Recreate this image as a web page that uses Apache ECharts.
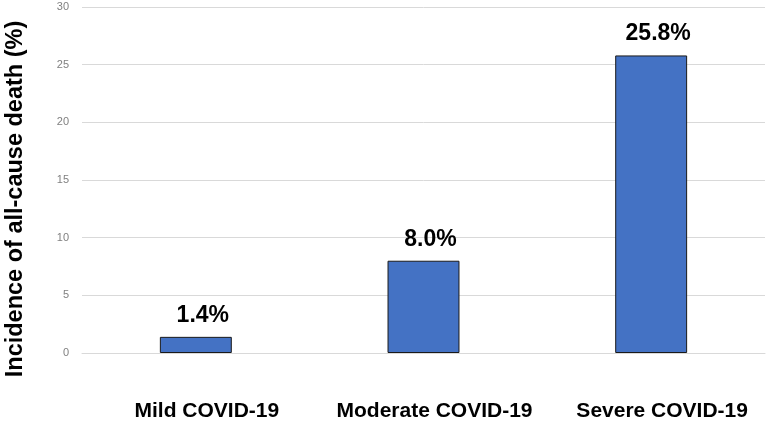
<!DOCTYPE html>
<html><head><meta charset="utf-8">
<script src="https://cdn.jsdelivr.net/npm/echarts@6/dist/echarts.min.js"></script>
<style>html,body{margin:0;padding:0;background:#fff}#c{width:770px;height:428px}</style>
</head><body><div id="c"></div>
<script>
const categories = ['Mild COVID-19', 'Moderate COVID-19', 'Severe COVID-19'];
const values = [1.4, 8.0, 25.8];
const yTicks = [0, 5, 10, 15, 20, 25, 30];
const yTitle = 'Incidence of all-cause death (%)';

const chart = echarts.init(document.getElementById('c'), null, {renderer: 'canvas'});
chart.setOption({
  animation: false,
  grid: {left: 82, right: 5, top: 7, bottom: 75, containLabel: false, outerBoundsMode: 'none'},
  xAxis: {
    type: 'category', data: categories,
    axisLine: {show: true, lineStyle: {color: '#d9d9d9'}},
    axisTick: {show: false},
    axisLabel: {interval: 0, margin: 48, padding: [0, 0, 0, 22], color: '#000', fontWeight: 'bold', fontSize: 21, fontFamily: 'Liberation Sans, Arial'}
  },
  yAxis: {
    type: 'value', min: yTicks[0], max: yTicks[yTicks.length-1], interval: 5,
    name: yTitle, nameLocation: 'middle', nameGap: 54,
    nameTextStyle: {color: '#000', fontWeight: 'bold', fontSize: 23.5, fontFamily: 'Liberation Sans, Arial', padding: [0, 38, 0, 0]},
    axisLine: {show: false}, axisTick: {show: false},
    axisLabel: {color: '#808080', fontSize: 11, margin: 13, fontFamily: 'Liberation Sans, Arial'},
    splitLine: {lineStyle: {color: '#d9d9d9'}}
  },
  series: [{
    type: 'bar', data: values, barWidth: '31.6%',
    itemStyle: {color: '#4472C4', borderColor: '#1a1a1a', borderWidth: 1},
    label: {show: true, position: 'top', distance: 10, offset: [7, 0], color: '#000', fontWeight: 'bold', fontSize: 23,
      fontFamily: 'Liberation Sans, Arial', formatter: p => p.value.toFixed(1) + '%'}
  }]
});
</script></body></html>
